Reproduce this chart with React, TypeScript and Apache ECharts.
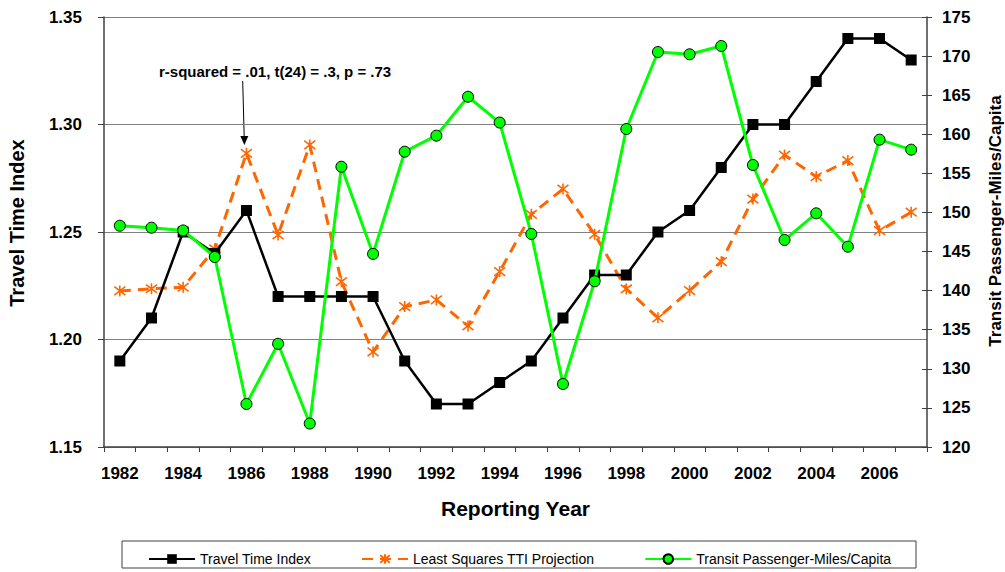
import React, { useEffect, useRef } from "react";
import * as echarts from "echarts";

const years = ["1982","1983","1984","1985","1986","1987","1988","1989","1990","1991","1992","1993","1994","1995","1996","1997","1998","1999","2000","2001","2002","2003","2004","2005","2006","2007"];
const tti = [1.19,1.21,1.25,1.24,1.26,1.22,1.22,1.22,1.22,1.19,1.17,1.17,1.18,1.19,1.21,1.23,1.23,1.25,1.26,1.28,1.30,1.30,1.32,1.34,1.34,1.33];
const projection = [1.2226,1.2236,1.2243,1.2422,1.2866,1.2486,1.2905,1.2269,1.1942,1.2153,1.2184,1.2063,1.2316,1.2582,1.2700,1.2489,1.2235,1.2101,1.2227,1.2362,1.2653,1.2858,1.2757,1.2832,1.2506,1.2592];
const transit = [148.3,148.05,147.7,144.3,125.5,133.2,123.0,155.85,144.7,157.77,159.82,164.8,161.5,147.25,128.06,141.2,160.67,170.52,170.23,171.29,156.07,146.48,149.89,145.62,159.31,158.03];
const seriesNames = ["Travel Time Index", "Least Squares TTI Projection", "Transit Passenger-Miles/Capita"];
const leftTitle = "Travel Time Index";
const rightTitle = "Transit Passenger-Miles/Capita";
const xTitle = "Reporting Year";
const annotation = "r-squared = .01, t(24) = .3, p = .73";

const FONT = '"Liberation Sans", Arial, sans-serif';

export default function App() {
  const ref = useRef<HTMLDivElement>(null);
  useEffect(() => {
    if (!ref.current) return;
    const chart = echarts.init(ref.current, undefined, { renderer: "svg" });
    chart.setOption({
      animation: false,
      backgroundColor: "#ffffff",
      textStyle: { fontFamily: FONT },
      grid: { left: 104, right: 78, top: 17, bottom: 125, containLabel: false },
      legend: {
        left: 143,
        top: 547,
        itemWidth: 46,
        itemHeight: 12,
        itemGap: 50,
        textStyle: { fontSize: 14, color: "#000", fontFamily: FONT },
        data: seriesNames,
      },
      xAxis: {
        type: "category",
        data: years,
        boundaryGap: true,
        axisLine: { lineStyle: { color: "#404040", width: 1.5 } },
        axisTick: { show: true, interval: 0, length: 5, lineStyle: { color: "#404040" } },
        axisLabel: { interval: 1, fontSize: 17, fontWeight: "bold", color: "#000", margin: 18, fontFamily: FONT },
        name: xTitle,
        nameLocation: "middle",
        nameGap: 51,
        nameTextStyle: { fontSize: 21, fontWeight: "bold", color: "#000", fontFamily: FONT },
      },
      yAxis: [
        {
          type: "value",
          min: 1.15,
          max: 1.35,
          interval: 0.05,
          position: "left",
          axisLine: { show: true, lineStyle: { color: "#404040", width: 1.5 } },
          axisTick: { show: true, length: 6, lineStyle: { color: "#404040" } },
          axisLabel: { fontSize: 17, fontWeight: "bold", color: "#000", margin: 22, formatter: (v: number) => v.toFixed(2), fontFamily: FONT },
          splitLine: { show: true, lineStyle: { color: "#808080", width: 1 } },
        },
        {
          type: "value",
          min: 120,
          max: 175,
          interval: 5,
          position: "right",
          axisLine: { show: true, lineStyle: { color: "#404040", width: 1.5 } },
          axisTick: { show: true, length: 5, lineStyle: { color: "#404040" } },
          axisLabel: { fontSize: 17, fontWeight: "bold", color: "#000", margin: 15, fontFamily: FONT },
          splitLine: { show: false },
        },
        {
          type: "value",
          min: 120,
          max: 175,
          interval: 5,
          position: "right",
          axisLine: { show: false },
          axisTick: { show: true, inside: true, length: 5, lineStyle: { color: "#404040" } },
          axisLabel: { show: false },
          splitLine: { show: false },
        },
      ],
      series: [
        {
          name: seriesNames[0],
          type: "line",
          yAxisIndex: 0,
          data: tti,
          symbol: "rect",
          symbolSize: 11,
          lineStyle: { color: "#000", width: 2.5 },
          itemStyle: { color: "#000" },
          z: 3,
        },
        {
          name: seriesNames[1],
          type: "line",
          yAxisIndex: 0,
          data: projection,
          symbol: "path://M0,0L10,10M10,0L0,10M5,-1.5L5,11.5",
          symbolSize: 11,
          lineStyle: { color: "#FF6600", width: 3, type: [11, 7] },
          itemStyle: { color: "#FF6600", borderColor: "#FF6600", borderWidth: 1.6 },
          z: 2,
        },
        {
          name: seriesNames[2],
          type: "line",
          yAxisIndex: 1,
          data: transit,
          symbol: "circle",
          symbolSize: 11,
          lineStyle: { color: "#00FF00", width: 3 },
          itemStyle: { color: "#00FF00", borderColor: "#000", borderWidth: 1 },
          z: 4,
        },
      ],
      graphic: [
        {
          type: "text",
          x: 17,
          y: 223,
          rotation: Math.PI / 2,
          style: { text: leftTitle, fontSize: 20, fontWeight: "bold", fill: "#000", fontFamily: FONT, align: "center", verticalAlign: "middle" },
        },
        {
          type: "text",
          x: 995,
          y: 221,
          rotation: Math.PI / 2,
          style: { text: rightTitle, fontSize: 17, fontWeight: "bold", fill: "#000", fontFamily: FONT, align: "center", verticalAlign: "middle" },
        },
        {
          type: "text",
          left: 159,
          top: 64,
          style: { text: annotation, fontSize: 15, fontWeight: "bold", fill: "#000", fontFamily: FONT },
        },
        {
          type: "line",
          shape: { x1: 242.7, y1: 81, x2: 244.2, y2: 137 },
          style: { stroke: "#000", lineWidth: 1 },
        },
        {
          type: "polygon",
          shape: { points: [[240.3, 136], [248.3, 136], [244.4, 145]] },
          style: { fill: "#000" },
        },
        {
          type: "rect",
          shape: { x: 122, y: 541, width: 794, height: 27 },
          style: { fill: "none", stroke: "#404040", lineWidth: 1 },
          z: -1,
        },
      ],
    });
    return () => chart.dispose();
  }, []);
  return <div ref={ref} style={{ width: 1005, height: 572, position: "absolute", left: 0, top: 0 }} />;
}
